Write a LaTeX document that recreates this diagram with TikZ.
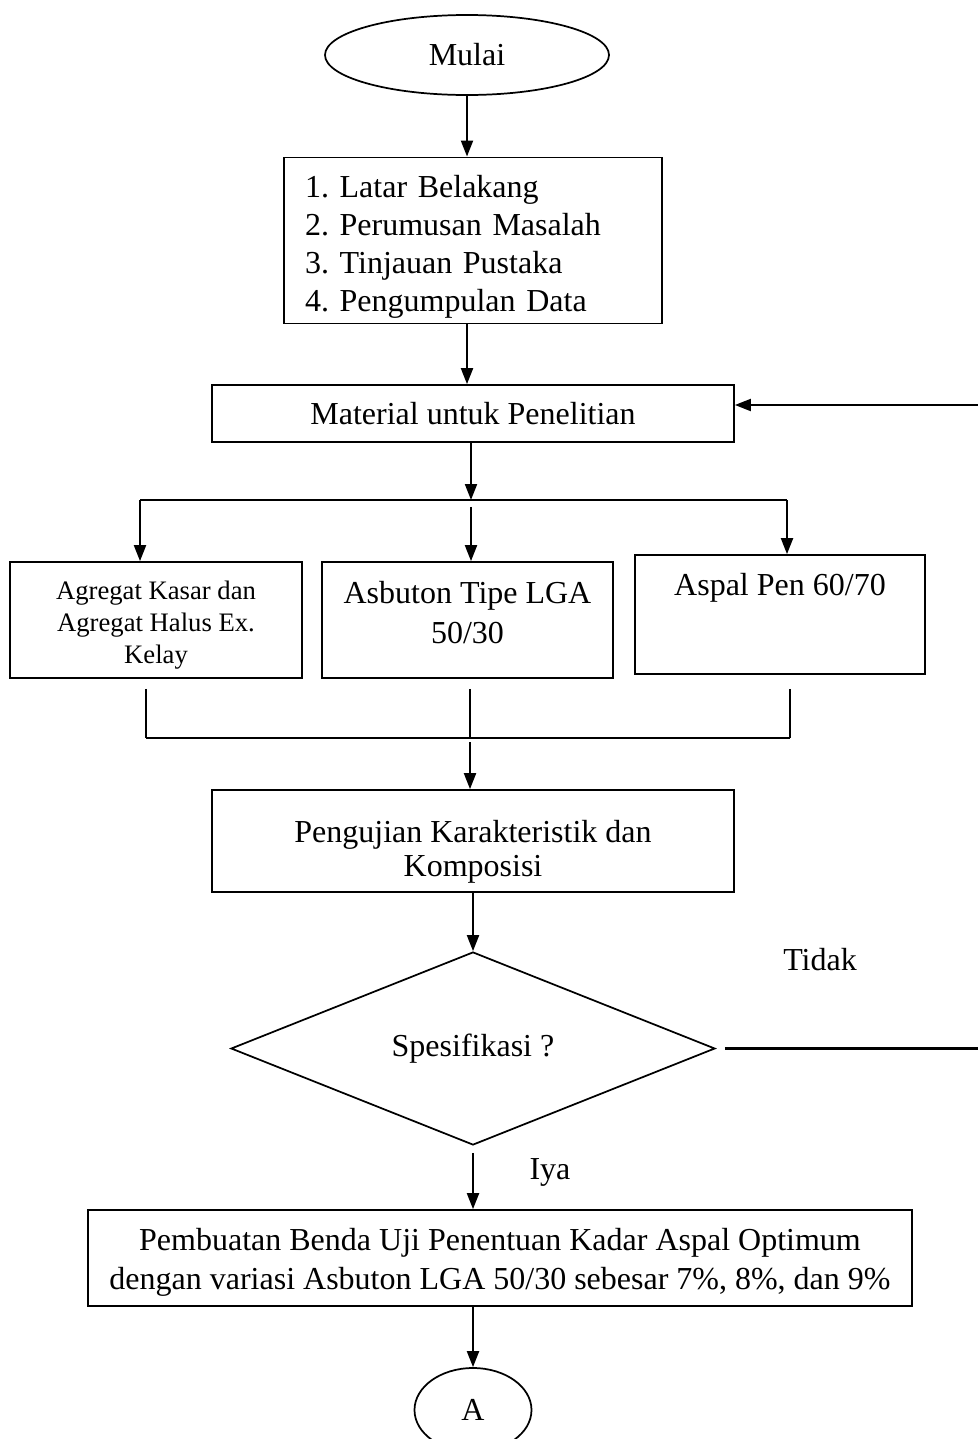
\documentclass[tikz,border=0pt]{standalone}
\usepackage{fontspec}
\setmainfont{Liberation Serif}
\usetikzlibrary{shapes.geometric,arrows.meta}
\frenchspacing

\begin{document}
\begin{tikzpicture}[x=0.375pt,y=-0.375pt,
		box/.style={draw,line width=0.65pt,inner sep=2pt,align=center,font=\fontsize{12}{15}\selectfont},
		arrow/.style={line width=0.75pt,-{Triangle[length=6pt,width=4.5pt]}},
		link/.style={line width=0.4pt},
		rail/.style={line width=0.5pt}]
			\useasboundingbox (0,0) rectangle (978,1439);
			
			\node[box,ellipse,minimum width=284*0.375pt,minimum height=80*0.375pt] (mulai) at (467,55) {Mulai};
			\node[box,align=left,inner xsep=7.875pt,text width=126pt,minimum height=165*0.375pt,font=\fontsize{12}{14.25}\selectfont] (intro) at (473,240.5) {\rule{0pt}{13pt}1. Latar Belakang\\2. Perumusan Masalah\\3. Tinjauan Pustaka\\4. Pengumpulan Data};
			\node[box,minimum width=522*0.375pt,minimum height=57*0.375pt] (bahan) at (473,413.5) {Material untuk Penelitian};
			
			\node[box,minimum width=292*0.375pt,minimum height=116*0.375pt,font=\fontsize{10}{12}\selectfont] (agregat) at (156,620) {\rule{0pt}{10.8pt}Agregat Kasar dan\\Agregat Halus Ex.\\Kelay};
			\node[box,minimum width=291*0.375pt,minimum height=116*0.375pt] (asbuton) at (467.5,620) {Asbuton Tipe LGA\\50/30\rule[-6pt]{0pt}{6pt}};
			\node[box,minimum width=290*0.375pt,minimum height=119*0.375pt] (aspal) at (780,614.5) {Aspal Pen 60/70\\[7.5pt]\mbox{}};
			
			\node[box,minimum width=522*0.375pt,minimum height=102*0.375pt,font=\fontsize{12}{12.75}\selectfont] (uji) at (473,841) {\rule{0pt}{16.75pt}Pengujian Karakteristik dan\\Komposisi};
			\node[box,diamond,inner sep=0pt,minimum width=484*0.375pt,minimum height=193*0.375pt] (cek) at (473,1048.5) {Spesifikasi ?};
			\node[font=\fontsize{12}{15}\selectfont] (tidak) at (820,960) {Tidak};
			\node[font=\fontsize{12}{15}\selectfont] (iya) at (550,1172) {Iya};
			\node[box,minimum width=824*0.375pt,minimum height=96*0.375pt,font=\fontsize{12}{14.6}\selectfont] (buat) at (500,1258) {\rule{0pt}{11.5pt}Pembuatan Benda Uji Penentuan Kadar Aspal Optimum\\dengan variasi Asbuton LGA 50/30 sebesar 7\%, 8\%, dan 9\%};
			\node[box,ellipse,minimum width=117*0.375pt,minimum height=84*0.375pt] (A) at (473,1410) {A};
			
			\coordinate (cabang) at (471,500);
			\coordinate (cabangL) at (140,500);
			\coordinate (cabangR) at (787,500);
			\coordinate (gabungL) at (146,738);
			\coordinate (gabungM) at (470,738);
			\coordinate (gabungR) at (790,738);
			\coordinate (balikA) at (978,405);
			\coordinate (balikB) at (978,1050);
			
			\draw[arrow] (mulai.south) -- (mulai.south |- intro.north);
			\draw[arrow] (intro.south -| mulai.south) -- (mulai.south |- bahan.north);
			\draw[arrow] (bahan.south -| cabang) -- (cabang);
			\draw[rail] (cabangL) -- (cabangR);
			\draw[arrow] (cabangL) -- (cabangL |- agregat.north);
			\draw[arrow,shorten <=2.6pt] (cabang) -- (cabang |- asbuton.north);
			\draw[arrow] (cabangR) -- (cabangR |- aspal.north);
			
			\draw[link,shorten <=3.75pt] (agregat.south -| gabungL) -- (gabungL);
			\draw[link,shorten <=3.75pt] (asbuton.south -| gabungM) -- (gabungM);
			\draw[link,shorten <=5.25pt] (aspal.south -| gabungR) -- (gabungR);
			\draw[rail] (gabungL) -- (gabungR);
			\draw[arrow,shorten <=1.5pt] (gabungM) -- (gabungM |- uji.north);
			
			\draw[arrow] (uji) -- (cek);
			\draw[arrow,shorten <=2.6pt] (cek.south) -- (buat.north -| cek.south);
			\draw[arrow] (buat.south -| A) -- (A.north);
			\draw[line width=0.8pt,shorten <=3.4pt] (cek.east) -- (cek.east -| balikB);
			\draw[arrow] (balikA) -- (balikA -| bahan.east);
		\end{tikzpicture}
\end{document}
